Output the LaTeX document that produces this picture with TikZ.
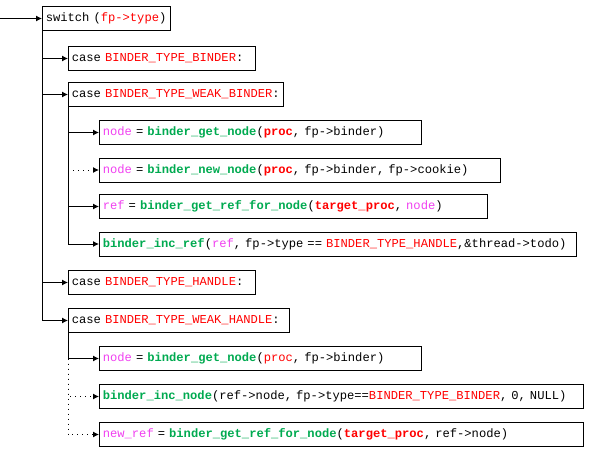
\documentclass[tikz,border=0pt]{standalone}
\usepackage{fontspec}
\setmonofont{Liberation Mono}
\usetikzlibrary{arrows.meta}

\definecolor{codered}{RGB}{255,0,0}
\definecolor{codepink}{RGB}{240,64,240}
\definecolor{codegreen}{RGB}{0,170,80}
\newcommand{\rd}[1]{\textcolor{codered}{#1}}
\newcommand{\pk}[1]{\textcolor{codepink}{#1}}
\newcommand{\fn}[1]{\textcolor{codegreen}{\bfseries #1}}

\tikzset{every picture/.style={line width=0.75pt}}
\tikzset{
  codebox/.style={draw, anchor=west, align=left, inner xsep=2.5pt, inner ysep=0pt,
    minimum height=18pt, text width=#1, font=\fontsize{9.1}{10}\selectfont\ttfamily},
  link/.style={-{Latex[length=4.5pt,width=4.5pt]}},
  maybe/.style={link, dash pattern=on 1pt off 2.75pt}
}

\begin{document}
\begin{tikzpicture}[x=0.75pt,y=0.75pt,yscale=-1,xscale=1]
	\useasboundingbox (0,0) rectangle (590,451);
	% switch and its cases
	\node [codebox=91pt] (sw) at (42,18.5) {switch (\rd{fp->type})};
	\node [codebox=135.25pt] (cb) at (68,58.5) {case \rd{BINDER\_TYPE\_BINDER}:};
	\node [codebox=156.25pt] (cwb) at (68,94.5) {case \rd{BINDER\_TYPE\_WEAK\_BINDER}:};
	\node [codebox=135.25pt] (ch) at (68,282.5) {case \rd{BINDER\_TYPE\_HANDLE}:};
	\node [codebox=160.75pt] (cwh) at (68,320.5) {case \rd{BINDER\_TYPE\_WEAK\_HANDLE}:};
	% binder branch
	\node [codebox=236.5pt] (ng1) at (99,132.5) {\pk{node} = \fn{binder\_get\_node}(\rd{\bfseries proc}, fp->binder)};
	\node [codebox=295.75pt] (nn) at (99,170) {\pk{node} = \fn{binder\_new\_node}(\rd{\bfseries proc}, fp->binder, fp->cookie)};
	\node [codebox=286pt] (rf) at (99,206.5) {\pk{ref} = \fn{binder\_get\_ref\_for\_node}(\rd{\bfseries target\_proc}, \pk{node})};
	\node [codebox=352.75pt] (ir) at (99,244) {\mbox{\fn{binder\_inc\_ref}(\pk{ref}, fp->type == \rd{BINDER\_TYPE\_HANDLE},\&thread->todo)}};
	% handle branch
	\node [codebox=236.5pt] (ng2) at (99,358.5) {\pk{node} = \fn{binder\_get\_node}(\rd{proc}, fp->binder)};
	\node [codebox=358pt] (in) at (99,396.5) {\mbox{\fn{binder\_inc\_node}(ref->node, fp->type==\rd{BINDER\_TYPE\_BINDER}, 0, NULL)}};
	\node [codebox=358pt] (nr) at (99,434.5) {\pk{new\_ref} = \fn{binder\_get\_ref\_for\_node}(\rd{\bfseries target\_proc}, ref->node)};

	% connectors
	\coordinate (entry) at (0,18.5);
	\draw [link] (entry) -- (sw.west);
	\draw [link] (sw.south west) |- (cb.west);
	\draw [link] (sw.south west) |- (cwb.west);
	\draw [link] (sw.south west) |- (ch.west);
	\draw [link] (sw.south west) |- (cwh.west);
	\draw [link] (cwb.south west) |- (ng1.west);
	\draw [link] (cwb.south west) |- (rf.west);
	\draw [link] (cwb.south west) |- (ir.west);
	\draw [maybe] (cwb.south west |- nn.west) -- (nn.west);
	\draw [link] (cwh.south west) |- (ng2.west);
	\draw [maybe] (cwh.south west |- ng2.west) |- (in.west);
	\draw [maybe] (cwh.south west |- ng2.west) |- (nr.west);
\end{tikzpicture}
\end{document}
